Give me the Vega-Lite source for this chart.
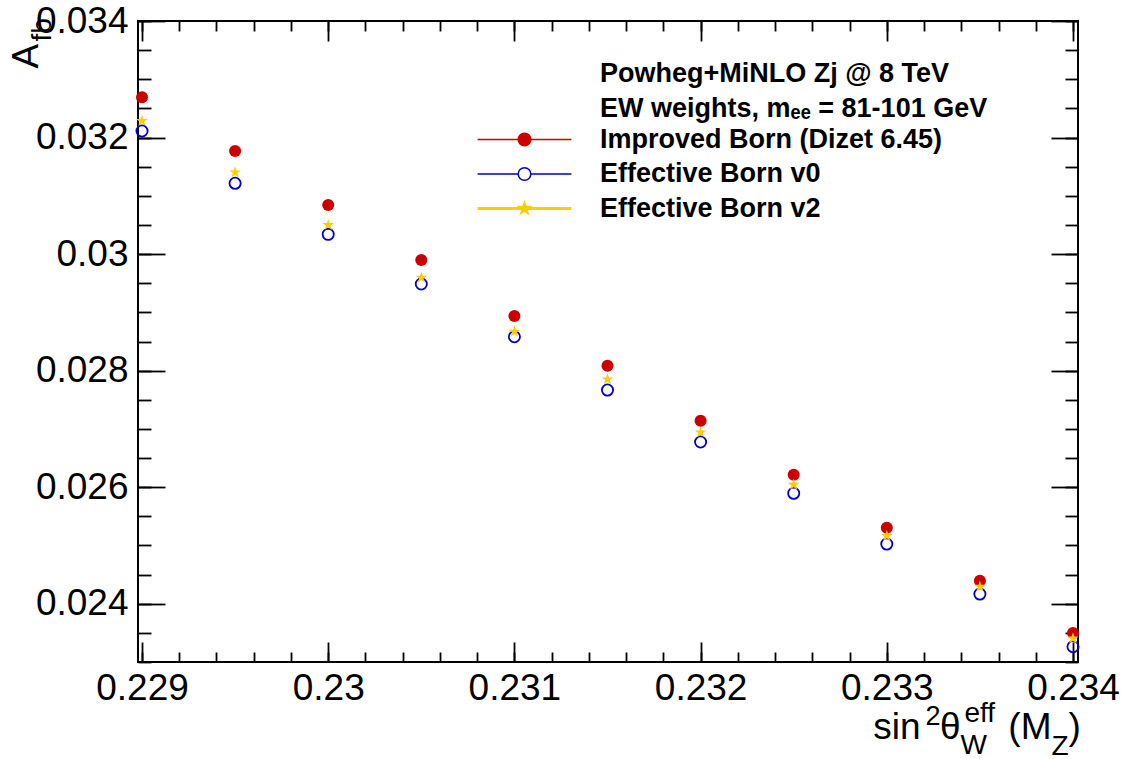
{
  "$schema": "https://vega.github.io/schema/vega-lite/v6.json",
  "width": 940,
  "height": 641,
  "autosize": {"type": "none"},
  "padding": {"left": 138, "top": 21, "right": 50, "bottom": 97},
  "background": "white",
  "config": {
    "view": {"stroke": "black", "strokeWidth": 2, "fill": "white"},
    "font": "Liberation Sans",
    "axis": {
      "domain": false,
      "grid": false,
      "tickColor": "black",
      "tickWidth": 1.8,
      "labelFont": "Liberation Sans",
      "labelFontSize": 37,
      "labelColor": "black",
      "labelFlush": false,
      "labelOverlap": false,
      "labelBound": false,
      "titleFont": "Liberation Sans",
      "titleFontSize": 37,
      "titleFontWeight": "normal",
      "titleColor": "black",
      "titleBaseline": "alphabetic"
    }
  },
  "data": {
    "values": [
      {"s2w": 0.229, "afb": 0.032691, "series": "Improved Born (Dizet 6.45)"},
      {"s2w": 0.2295, "afb": 0.031769, "series": "Improved Born (Dizet 6.45)"},
      {"s2w": 0.23, "afb": 0.030842, "series": "Improved Born (Dizet 6.45)"},
      {"s2w": 0.2305, "afb": 0.029898, "series": "Improved Born (Dizet 6.45)"},
      {"s2w": 0.231, "afb": 0.028937, "series": "Improved Born (Dizet 6.45)"},
      {"s2w": 0.2315, "afb": 0.028084, "series": "Improved Born (Dizet 6.45)"},
      {"s2w": 0.232, "afb": 0.027141, "series": "Improved Born (Dizet 6.45)"},
      {"s2w": 0.2325, "afb": 0.026214, "series": "Improved Born (Dizet 6.45)"},
      {"s2w": 0.233, "afb": 0.025304, "series": "Improved Born (Dizet 6.45)"},
      {"s2w": 0.2335, "afb": 0.024395, "series": "Improved Born (Dizet 6.45)"},
      {"s2w": 0.234, "afb": 0.023497, "series": "Improved Born (Dizet 6.45)"},
      {"s2w": 0.229, "afb": 0.032112, "series": "Effective Born v0"},
      {"s2w": 0.2295, "afb": 0.031215, "series": "Effective Born v0"},
      {"s2w": 0.23, "afb": 0.030339, "series": "Effective Born v0"},
      {"s2w": 0.2305, "afb": 0.029487, "series": "Effective Born v0"},
      {"s2w": 0.231, "afb": 0.028582, "series": "Effective Born v0"},
      {"s2w": 0.2315, "afb": 0.027667, "series": "Effective Born v0"},
      {"s2w": 0.232, "afb": 0.026775, "series": "Effective Born v0"},
      {"s2w": 0.2325, "afb": 0.025895, "series": "Effective Born v0"},
      {"s2w": 0.233, "afb": 0.025024, "series": "Effective Born v0"},
      {"s2w": 0.2335, "afb": 0.024166, "series": "Effective Born v0"},
      {"s2w": 0.234, "afb": 0.023262, "series": "Effective Born v0"},
      {"s2w": 0.229, "afb": 0.032284, "series": "Effective Born v2"},
      {"s2w": 0.2295, "afb": 0.031403, "series": "Effective Born v2"},
      {"s2w": 0.23, "afb": 0.030499, "series": "Effective Born v2"},
      {"s2w": 0.2305, "afb": 0.029595, "series": "Effective Born v2"},
      {"s2w": 0.231, "afb": 0.028668, "series": "Effective Born v2"},
      {"s2w": 0.2315, "afb": 0.027851, "series": "Effective Born v2"},
      {"s2w": 0.232, "afb": 0.026941, "series": "Effective Born v2"},
      {"s2w": 0.2325, "afb": 0.026042, "series": "Effective Born v2"},
      {"s2w": 0.233, "afb": 0.025162, "series": "Effective Born v2"},
      {"s2w": 0.2335, "afb": 0.024292, "series": "Effective Born v2"},
      {"s2w": 0.234, "afb": 0.023406, "series": "Effective Born v2"}
    ]
  },
  "resolve": {"axis": {"x": "independent", "y": "independent"}},
  "layer": [
    {
      "transform": [{"filter": "datum.series === 'Improved Born (Dizet 6.45)'"}],
      "mark": {"type": "point", "filled": true, "size": 145, "strokeWidth": 0, "color": "#cc0000", "opacity": 1},
      "encoding": {
        "x": {
          "field": "s2w", "type": "quantitative",
          "scale": {"domain": [0.2289785, 0.2340269], "nice": false, "zero": false},
          "axis": {"orient": "bottom", "values": [0.229, 0.23, 0.231, 0.232, 0.233, 0.234], "tickSize": -20, "labelPadding": 28, "format": "~g", "title": "sin", "titleAngle": 0, "titleX": 782, "titleY": 76, "titleAlign": "right"}
        },
        "y": {
          "field": "afb", "type": "quantitative",
          "scale": {"domain": [0.023, 0.034], "nice": false, "zero": false},
          "axis": {"orient": "left", "values": [0.024, 0.026, 0.028, 0.03, 0.032, 0.034], "tickSize": -27, "labelPadding": 37, "format": "~g", "title": "A", "titleAngle": 270, "titleX": -101, "titleY": 47, "titleAlign": "left"}
        }
      }
    },
    {
      "transform": [{"filter": "datum.series === 'Effective Born v0'"}],
      "mark": {"type": "point", "filled": false, "size": 125, "strokeWidth": 1.8, "color": "#0000cc", "opacity": 1},
      "encoding": {
        "x": {
          "field": "s2w", "type": "quantitative",
          "scale": {"domain": [0.2289785, 0.2340269], "nice": false, "zero": false},
          "axis": {"orient": "bottom", "values": [0.229, 0.2292, 0.2294, 0.2296, 0.2298, 0.23, 0.2302, 0.2304, 0.2306, 0.2308, 0.231, 0.2312, 0.2314, 0.2316, 0.2318, 0.232, 0.2322, 0.2324, 0.2326, 0.2328, 0.233, 0.2332, 0.2334, 0.2336, 0.2338, 0.234], "tickSize": -10, "labels": false, "title": "W", "titleFontSize": 28, "titleAngle": 0, "titleX": 822, "titleY": 91, "titleAlign": "left"}
        },
        "y": {
          "field": "afb", "type": "quantitative",
          "scale": {"domain": [0.023, 0.034], "nice": false, "zero": false},
          "axis": {"orient": "left", "values": [0.023, 0.0235, 0.024, 0.0245, 0.025, 0.0255, 0.026, 0.0265, 0.027, 0.0275, 0.028, 0.0285, 0.029, 0.0295, 0.03, 0.0305, 0.031, 0.0315, 0.032, 0.0325, 0.033, 0.0335, 0.034], "tickSize": -13, "labels": false, "title": "fb", "titleFontSize": 28, "titleAngle": 270, "titleX": -88, "titleY": 20, "titleAlign": "left"}
        }
      }
    },
    {
      "transform": [{"filter": "datum.series === 'Effective Born v2'"}],
      "mark": {"type": "point", "filled": true, "size": 150, "strokeWidth": 0, "color": "#ffcc00", "opacity": 1, "shape": "M0,-1L0.2245,-0.309L0.951,-0.309L0.363,0.118L0.588,0.809L0,0.382L-0.588,0.809L-0.363,0.118L-0.951,-0.309L-0.2245,-0.309Z"},
      "encoding": {
        "x": {
          "field": "s2w", "type": "quantitative",
          "scale": {"domain": [0.2289785, 0.2340269], "nice": false, "zero": false},
          "axis": {"orient": "top", "values": [0.229, 0.23, 0.231, 0.232, 0.233, 0.234], "tickSize": -20, "labels": false, "title": "eff", "titleFontSize": 28, "titleAngle": 0, "titleX": 826, "titleY": 700, "titleAlign": "left"}
        },
        "y": {
          "field": "afb", "type": "quantitative",
          "scale": {"domain": [0.023, 0.034], "nice": false, "zero": false},
          "axis": {"orient": "right", "values": [0.024, 0.026, 0.028, 0.03, 0.032, 0.034], "tickSize": -27, "labels": false, "title": "(M", "titleAngle": 0, "titleX": -27, "titleY": 717, "titleAlign": "right"}
        }
      }
    },
    {
      "transform": [{"filter": "false"}],
      "mark": {"type": "point", "filled": true, "opacity": 1},
      "encoding": {
        "x": {
          "field": "s2w", "type": "quantitative",
          "scale": {"domain": [0.2289785, 0.2340269], "nice": false, "zero": false},
          "axis": {"orient": "top", "values": [0.229, 0.2292, 0.2294, 0.2296, 0.2298, 0.23, 0.2302, 0.2304, 0.2306, 0.2308, 0.231, 0.2312, 0.2314, 0.2316, 0.2318, 0.232, 0.2322, 0.2324, 0.2326, 0.2328, 0.233, 0.2332, 0.2334, 0.2336, 0.2338, 0.234], "tickSize": -10, "labels": false, "title": "Z", "titleFontSize": 28, "titleAngle": 0, "titleX": 913, "titleY": 733, "titleAlign": "left"}
        },
        "y": {
          "field": "afb", "type": "quantitative",
          "scale": {"domain": [0.023, 0.034], "nice": false, "zero": false},
          "axis": {"orient": "right", "values": [0.023, 0.0235, 0.024, 0.0245, 0.025, 0.0255, 0.026, 0.0265, 0.027, 0.0275, 0.028, 0.0285, 0.029, 0.0295, 0.03, 0.0305, 0.031, 0.0315, 0.032, 0.0325, 0.033, 0.0335, 0.034], "tickSize": -13, "labels": false, "title": ")", "titleAngle": 0, "titleX": -10, "titleY": 717, "titleAlign": "left"}
        },
        "fill": {
          "field": "series", "type": "nominal",
          "scale": {"domain": ["Improved Born (Dizet 6.45)", "Effective Born v0", "Effective Born v2"], "range": ["#cc0000", "transparent", "#ffcc00"]},
          "legend": {
            "orient": "none", "legendX": 462, "legendY": 40,
            "title": ["Powheg+MiNLO Zj @ 8 TeV", "EW weights, mₑₑ = 81-101 GeV"],
            "titleFont": "Liberation Sans", "titleFontSize": 27, "titleFontWeight": "bold", "titleColor": "black", "titleLineHeight": 35, "titlePadding": 3, "titleLimit": 700, "titleAlign": "left",
            "labelFont": "Liberation Sans", "labelFontSize": 27, "labelFontWeight": "bold", "labelColor": "black", "labelLimit": 700,
            "symbolSize": 196, "symbolOpacity": 1, "symbolOffset": -89, "labelOffset": 62,
            "rowPadding": 6.5, "padding": 0
          }
        },
        "stroke": {
          "field": "series", "type": "nominal",
          "scale": {"domain": ["Improved Born (Dizet 6.45)", "Effective Born v0", "Effective Born v2"], "range": ["#cc0000", "#0000cc", "#ffcc00"]}
        },
        "strokeWidth": {
          "field": "series", "type": "ordinal",
          "scale": {"type": "ordinal", "domain": ["Improved Born (Dizet 6.45)", "Effective Born v0", "Effective Born v2"], "range": [1.5, 1.5, 3]}
        },
        "shape": {
          "field": "series", "type": "nominal",
          "scale": {"domain": ["Improved Born (Dizet 6.45)", "Effective Born v0", "Effective Born v2"], "range": [
            "M-6.7,0L6.7,0M-0.9,0A0.9,0.9,0,1,0,0.9,0A0.9,0.9,0,1,0,-0.9,0Z",
            "M-6.7,0L-0.9,0M0.9,0L6.7,0M-0.9,0A0.9,0.9,0,1,0,0.9,0A0.9,0.9,0,1,0,-0.9,0Z",
            "M-6.7,0L6.7,0M0,-0.55L0.1235,-0.17L0.523,-0.17L0.2,0.065L0.323,0.445L0,0.21L-0.323,0.445L-0.2,0.065L-0.523,-0.17L-0.1235,-0.17Z"
          ]}
        }
      }
    },
    {
      "transform": [{"filter": "false"}],
      "mark": {"type": "point"},
      "encoding": {
        "x": {
          "field": "s2w", "type": "quantitative",
          "scale": {"domain": [0.2289785, 0.2340269], "nice": false, "zero": false},
          "axis": {"orient": "bottom", "ticks": false, "labels": false, "title": "2", "titleFontSize": 27, "titleAngle": 0, "titleX": 787, "titleY": 62, "titleAlign": "left"}
        },
        "y": {
          "field": "afb", "type": "quantitative",
          "scale": {"domain": [0.023, 0.034], "nice": false, "zero": false},
          "axis": {"orient": "left", "ticks": false, "labels": false, "title": "θ", "titleAngle": 0, "titleX": 822, "titleY": 717, "titleAlign": "right"}
        }
      }
    }
  ]
}
